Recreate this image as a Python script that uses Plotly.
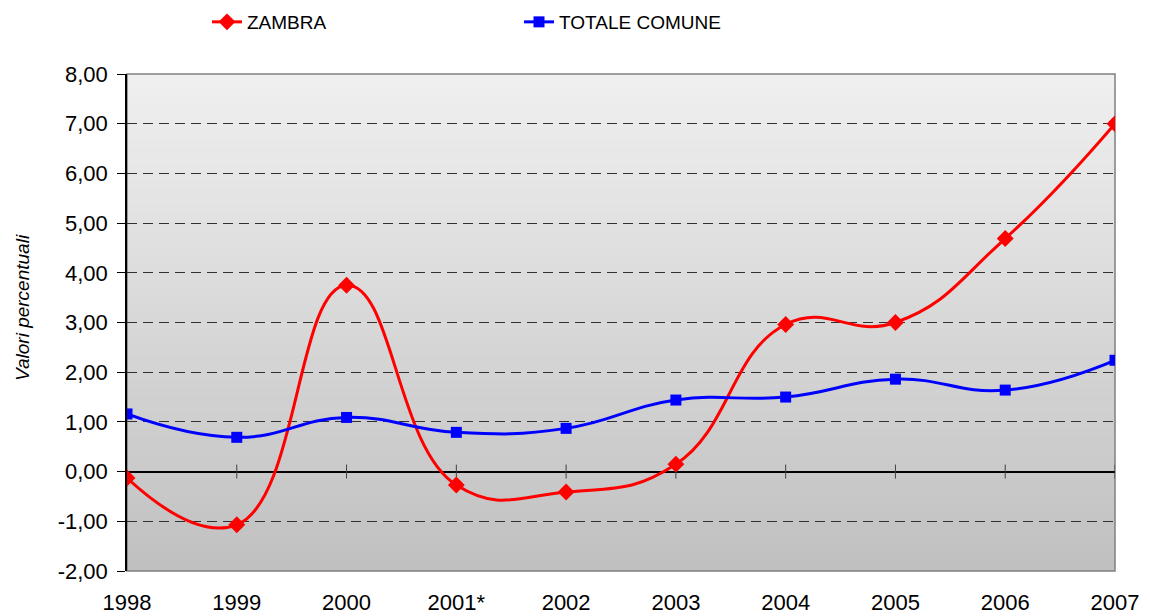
import plotly.graph_objects as go

years = ["1998", "1999", "2000", "2001*", "2002", "2003", "2004", "2005", "2006", "2007"]
zambra = [-0.13, -1.07, 3.75, -0.27, -0.41, 0.15, 2.96, 3.00, 4.69, 7.00]
totale = [1.16, 0.69, 1.09, 0.79, 0.87, 1.44, 1.50, 1.86, 1.64, 2.24]
y_ticks = [-2, -1, 0, 1, 2, 3, 4, 5, 6, 7, 8]
y_labels = [f"{v:.2f}".replace(".", ",") for v in y_ticks]

xpos = list(range(len(years)))
FONT = "Liberation Sans, Arial, sans-serif"

W, H = 1142, 608
ML, MR, MT, MB = 119, 35, 66, 45

fig = go.Figure()
fig.add_trace(go.Scatter(
    x=xpos, y=zambra, name="ZAMBRA", mode="lines+markers",
    line=dict(color="#ff0000", width=3, shape="spline", smoothing=1.3),
    marker=dict(symbol="diamond", size=13, color="#ff0000"),
))
fig.add_trace(go.Scatter(
    x=xpos, y=totale, name="TOTALE COMUNE", mode="lines+markers",
    line=dict(color="#0000ff", width=3, shape="spline", smoothing=1.3),
    marker=dict(symbol="square", size=11, color="#0000ff"),
))

# gradient background (light at top, darker at bottom)
shapes = []
n = 60
top = (240, 240, 240)
bot = (192, 192, 192)
for i in range(n):
    t = (i + 0.5) / n
    c = tuple(round(top[k] + (bot[k] - top[k]) * t) for k in range(3))
    shapes.append(dict(
        type="rect", xref="x domain", yref="y domain",
        x0=0, x1=1, y0=max(0, 1 - (i + 1) / n), y1=min(1, 1 - i / n + 0.003),
        fillcolor=f"rgb{c}", line=dict(width=0), layer="below",
    ))
# gray border
shapes.append(dict(type="rect", xref="x domain", yref="y domain", x0=0, x1=1, y0=0, y1=1,
                   line=dict(color="#808080", width=1.5), fillcolor="rgba(0,0,0,0)", layer="below"))
# category tick marks crossing the zero line
for xp in xpos[1:]:
    shapes.append(dict(type="line", xref="x", yref="y", x0=xp, x1=xp,
                       ysizemode="pixel", yanchor=0, y0=-7, y1=7,
                       line=dict(color="#404040", width=1), layer="between"))

fig.update_layout(
    width=W, height=H,
    margin=dict(l=ML, r=MR, t=MT, b=MB, autoexpand=False),
    paper_bgcolor="white", plot_bgcolor="rgba(0,0,0,0)",
    font=dict(family=FONT, size=22, color="black"),
    shapes=shapes,
    showlegend=True,
    legend=dict(
        orientation="h", x=199 / W, y=1 - 14 / H, xref="container", yref="container",
        xanchor="left", yanchor="middle",
        entrywidth=267, entrywidthmode="pixels",
        font=dict(family=FONT, size=19, color="black"),
        bgcolor="rgba(0,0,0,0)",
    ),
    xaxis=dict(
        range=[0, 9], tickmode="array", tickvals=xpos, ticktext=years,
        showgrid=False, zeroline=False, showline=False, ticks="",
        tickfont=dict(family=FONT, size=22), ticklabelstandoff=16,
        automargin=False,
    ),
    yaxis=dict(
        range=[-2, 8], tickmode="array", tickvals=y_ticks, ticktext=y_labels,
        showgrid=True, gridcolor="#303030", griddash="10px,6px", gridwidth=1,
        zeroline=True, zerolinecolor="black", zerolinewidth=1.5,
        showline=True, linecolor="black", linewidth=1.5,
        ticks="outside", ticklen=8, tickcolor="black",
        tickfont=dict(family=FONT, size=22), ticklabelstandoff=5,
        automargin=False,
    ),
    annotations=[dict(
        text="<i>Valori percentuali</i>", xref="paper", yref="paper",
        x=(14 - ML) / (W - ML - MR), y=(H - MB - 300) / (H - MT - MB),
        xanchor="center", yanchor="middle", textangle=-90, showarrow=False,
        font=dict(family=FONT, size=19, color="black"),
    )],
)

fig.write_html("out.html")
